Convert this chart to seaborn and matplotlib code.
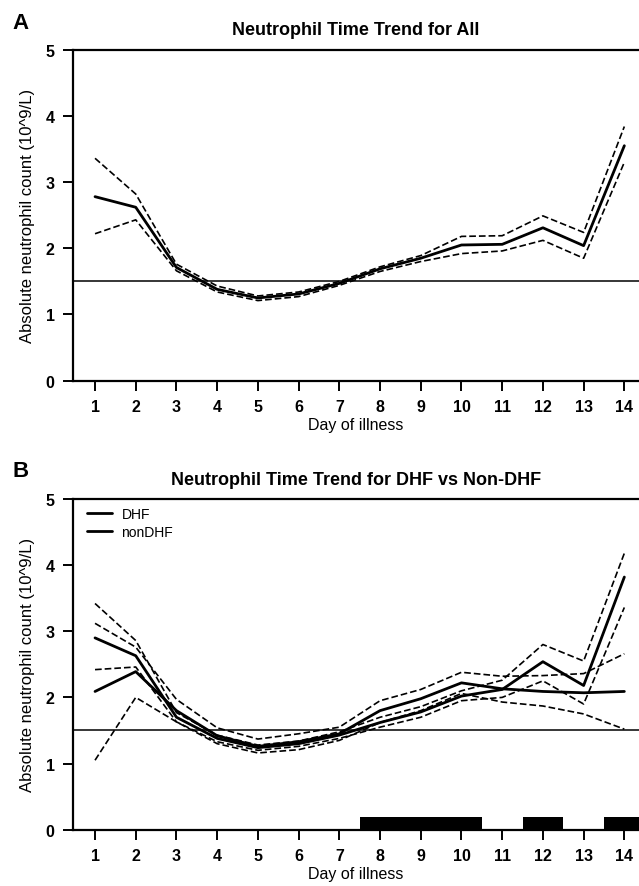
import numpy as np
import pandas as pd
import matplotlib
matplotlib.use("Agg")
import matplotlib.pyplot as plt
import seaborn as sns

# Values
days = list(range(1, 15))

all_mean = [2.78, 2.62, 1.71, 1.38, 1.25, 1.31, 1.47, 1.69, 1.85, 2.05, 2.06, 2.31, 2.04, 3.55]
all_hi = [3.36, 2.82, 1.76, 1.43, 1.28, 1.34, 1.50, 1.72, 1.89, 2.18, 2.19, 2.49, 2.24, 3.84]
all_lo = [2.22, 2.43, 1.66, 1.34, 1.21, 1.27, 1.44, 1.65, 1.80, 1.92, 1.96, 2.12, 1.85, 3.30]

dhf_mean = [2.09, 2.39, 1.80, 1.42, 1.26, 1.33, 1.45, 1.80, 1.98, 2.22, 2.13, 2.09, 2.07, 2.09]
dhf_hi = [3.12, 2.76, 1.97, 1.54, 1.37, 1.45, 1.55, 1.95, 2.12, 2.38, 2.32, 2.33, 2.36, 2.66]
dhf_lo = [1.05, 2.00, 1.63, 1.30, 1.16, 1.21, 1.35, 1.62, 1.80, 2.06, 1.93, 1.87, 1.75, 1.52]

non_mean = [2.90, 2.63, 1.70, 1.38, 1.24, 1.30, 1.43, 1.62, 1.78, 2.02, 2.12, 2.54, 2.18, 3.82]
non_hi = [3.42, 2.86, 1.77, 1.43, 1.28, 1.34, 1.48, 1.70, 1.86, 2.10, 2.26, 2.80, 2.55, 4.18]
non_lo = [2.42, 2.46, 1.63, 1.33, 1.20, 1.26, 1.38, 1.55, 1.70, 1.95, 2.00, 2.25, 1.90, 3.36]

# days with a significant DHF vs non-DHF difference (black blocks on the axis)
sig_days = [8, 9, 10, 12, 14]
sig_height = [0.19, 0.19, 0.19, 0.19, 0.19]

threshold = 1.5

sns.set_style("ticks")
plt.rcParams['font.family'] = ['Liberation Sans', 'DejaVu Sans']
plt.rcParams['text.color'] = 'black'
plt.rcParams['axes.labelcolor'] = 'black'

fig = plt.figure(figsize=(6.39, 8.87), dpi=100)
axA = fig.add_axes([0.1138, 0.5697, 0.8862, 0.3731])
axB = fig.add_axes([0.1138, 0.0635, 0.8862, 0.3728])


def draw_series(ax, mean, lo, hi, label=None):
    d = pd.DataFrame({'day': days, 'mean': mean, 'lo': lo, 'hi': hi})
    sns.lineplot(data=d, x='day', y='mean', color='black', linewidth=2.0,
                 ax=ax, label=label)
    for col in ['lo', 'hi']:
        sns.lineplot(data=d, x='day', y=col, color='black', linewidth=1.2,
                     linestyle=(0, (4, 1.8)), ax=ax)


def style_axis(ax, title):
    ax.axhline(threshold, color='black', linewidth=1.1)
    ax.set_xlim(0.452, 14.36)
    ax.set_ylim(0, 5)
    ax.set_xticks(days)
    ax.set_yticks([0, 1, 2, 3, 4, 5])
    ax.tick_params(axis='both', direction='out', length=7, width=1.4,
                   labelsize=11.5, pad=6, colors='black')
    for lab in ax.get_xticklabels() + ax.get_yticklabels():
        lab.set_fontweight('bold')
    for s in ['left', 'bottom', 'top']:
        ax.spines[s].set_linewidth(1.6)
        ax.spines[s].set_color('black')
    ax.spines['right'].set_visible(False)
    ax.set_title(title, fontsize=13, fontweight='bold', pad=11, color='black')
    ax.set_xlabel('Day of illness', fontsize=11.5, labelpad=2)
    ax.set_ylabel('Absolute neutrophil count (10^9/L)', fontsize=12, labelpad=8)


# Panel A
draw_series(axA, all_mean, all_lo, all_hi)
style_axis(axA, 'Neutrophil Time Trend for All')

# Panel B
draw_series(axB, dhf_mean, dhf_lo, dhf_hi, label='DHF')
draw_series(axB, non_mean, non_lo, non_hi, label='nonDHF')
axB.bar(sig_days, sig_height, width=1.0, color='black', edgecolor='none',
        linewidth=0, align='center')
style_axis(axB, 'Neutrophil Time Trend for DHF vs Non-DHF')
axB.legend(loc='upper left', frameon=False, fontsize=10, handlelength=1.8,
           handletextpad=0.7, borderaxespad=0.2, labelspacing=0.25,
           bbox_to_anchor=(0.01, 1.0), labelcolor='black')

fig.text(0.02, 0.973, 'A', fontsize=16, fontweight='bold', va='center')
fig.text(0.02, 0.468, 'B', fontsize=16, fontweight='bold', va='center')

fig.savefig('out.png', dpi=100)
